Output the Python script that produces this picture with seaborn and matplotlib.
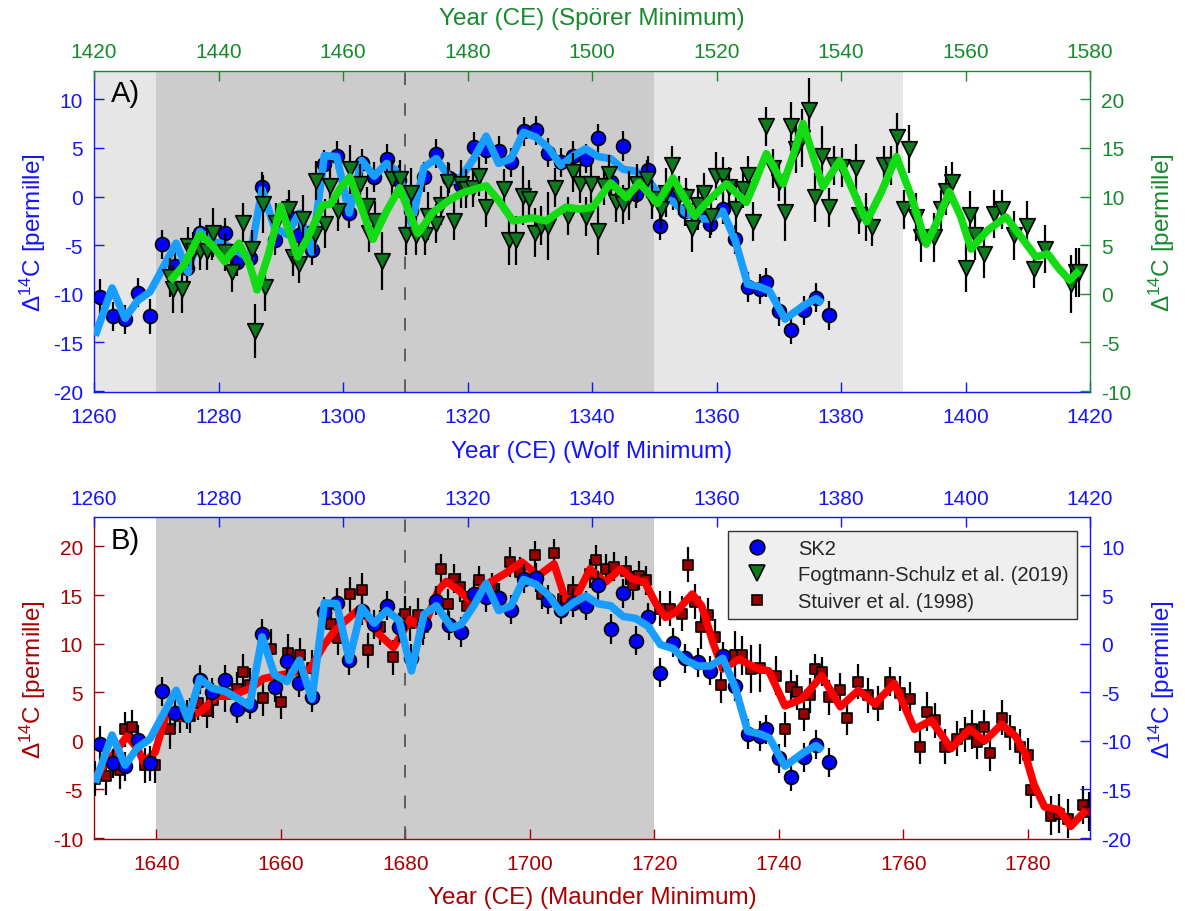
import matplotlib
matplotlib.use('Agg')
import matplotlib.pyplot as plt
import seaborn as sns
from matplotlib.lines import Line2D

# ---- SK2 stalagmite (years on the Wolf Minimum axis) ----
sk2_year = [1261, 1263, 1265, 1267, 1269, 1271, 1273, 1275, 1277, 1279, 1281, 1283, 1285, 1287, 1289,
            1291, 1293, 1295, 1297, 1299, 1301, 1303, 1305, 1307, 1309, 1311, 1313, 1315, 1317, 1319,
            1321, 1323, 1325, 1327, 1329, 1331, 1333, 1335, 1337, 1339, 1341, 1343, 1345, 1347, 1349,
            1351, 1353, 1355, 1357, 1359, 1361, 1363, 1365, 1367, 1368, 1370, 1372, 1374, 1376, 1378]
sk2_d14c = [-10.3, -12.3, -12.6, -9.9, -12.3, -4.9, -7.1, -7.3, -3.7, -5.0, -3.7, -6.7, -6.3, 1.0, -4.5,
            -1.8, -4.0, -5.5, 3.3, 4.2, -1.7, 3.4, 2.0, 3.9, 1.7, -1.5, 2.0, 4.4, 1.9, 1.2,
            5.1, 4.8, 4.7, 3.5, 6.7, 6.8, 4.5, 3.5, 4.2, 3.9, 6.0, 1.5, 5.2, 0.3, 2.7,
            -3.0, 0.1, -1.5, -1.9, -2.8, -1.3, -4.4, -9.3, -9.5, -8.8, -11.8, -13.7, -11.7, -10.4, -12.2]
sk2_err = [1.8, 1.5, 1.5, 1.5, 1.8, 1.5, 1.5, 1.5, 1.5, 1.5, 1.5, 1.5, 1.5, 1.5, 1.5,
           1.5, 1.5, 1.5, 1.5, 1.5, 1.5, 1.5, 1.5, 1.5, 1.5, 1.5, 1.5, 1.5, 1.5, 1.5,
           1.5, 1.5, 1.5, 1.5, 1.5, 1.5, 1.5, 1.5, 1.5, 1.5, 1.5, 1.5, 1.5, 1.5, 1.5,
           1.5, 1.5, 1.5, 1.5, 1.5, 1.5, 1.5, 1.5, 1.5, 1.5, 1.5, 1.5, 1.5, 1.5, 1.5]
sk2_fit_year = [1260.2, 1262.9, 1265, 1267, 1269, 1273.2, 1275.1, 1277, 1279, 1281, 1283, 1285, 1287,
                1289, 1291, 1293, 1295, 1297, 1299, 1301, 1303, 1305, 1307, 1309, 1311, 1313, 1315,
                1317.5, 1319, 1321, 1323, 1325, 1327, 1329, 1331, 1333, 1335, 1337, 1339, 1341, 1343,
                1345, 1347, 1349, 1351, 1353, 1355, 1357, 1359, 1361, 1363, 1365, 1367, 1368.5, 1371,
                1374, 1376, 1377]
sk2_fit = [-14.3, -9.4, -12.5, -10.7, -9.8, -4.8, -7.8, -3.6, -4.6, -4.9, -5.6, -6.4, 0.7,
           -3.2, -3.9, -1.7, -5.7, 4.2, 4.1, -1.7, 3.7, 2.1, 3.4, 2.4, -2.8, 3.0, 3.9,
           1.6, 2.0, 3.9, 6.2, 3.4, 3.9, 6.6, 6.1, 5.0, 3.2, 4.2, 4.9, 4.1, 3.9,
           2.8, 2.6, 1.8, -0.1, -0.5, -1.7, -2.3, -2.3, -1.5, -4.5, -9.0, -9.3, -9.7, -12.6,
           -11.2, -10.5, -11.0]

# ---- Fogtmann-Schulz et al. (2019) (Spoerer Minimum axis) ----
fs_year = [1432.2, 1432.7, 1434.2, 1435.1, 1435.9, 1437.0, 1438.1, 1439.1, 1441.0, 1442.1,
           1444.0, 1445.4, 1445.9, 1447.2, 1447.4, 1449.3, 1451.3, 1451.9, 1453.0, 1453.6,
           1455.5, 1455.7, 1457.1, 1457.9, 1459.2, 1461.1, 1462.8, 1463.8, 1464.2, 1465.1,
           1466.2, 1467.8, 1469.1, 1470.2, 1471.0, 1471.8, 1473.1, 1473.6, 1475.0, 1475.8,
           1476.8, 1477.9, 1479.0, 1479.8, 1480.9, 1481.9, 1483.0, 1485.9, 1486.7, 1487.8,
           1488.9, 1489.9, 1490.8, 1491.8, 1492.9, 1494.0, 1496.1, 1496.9, 1498.0, 1499.0,
           1499.8, 1500.9, 1502.0, 1502.8, 1503.8, 1504.9, 1506.0, 1507.3, 1508.9, 1509.7,
           1511.1, 1511.9, 1512.9, 1514.0, 1515.1, 1516.0, 1517.0, 1518.0, 1519.1, 1519.9,
           1521.0, 1522.0, 1523.1, 1524.2, 1525.0, 1525.9, 1527.9, 1529.0, 1530.1, 1531.0,
           1531.9, 1532.7, 1533.8, 1534.9, 1535.9, 1537.0, 1538.1, 1538.8, 1540.2, 1542.4,
           1542.9, 1544.0, 1545.0, 1546.9, 1548.0, 1549.0, 1550.1, 1550.9, 1552.0, 1552.8,
           1554.9, 1556.0, 1556.8, 1557.9, 1560.0, 1560.8, 1561.6, 1562.9, 1564.6, 1565.9,
           1567.8, 1569.9, 1571.0, 1572.8, 1576.9, 1577.7, 1578.2]
fs_d14c = [1.7, 0.5, 0.5, 4.9, 4.4, 4.4, 4.4, 6.3, 4.3, 2.2,
           7.3, 4.6, -3.8, 9.2, 0.7, 7.3, 8.7, 3.8, 3.1, 7.7,
           6.1, 11.6, 7.2, 11.1, 8.5, 12.8, 11.3, 9.0, 6.3, 7.5,
           3.4, 11.8, 11.8, 6.0, 10.4, 6.0, 6.0, 8.0, 7.2, 9.1,
           11.5, 7.5, 11.3, 10.8, 10.9, 12.1, 8.9, 10.8, 5.5, 5.5,
           10.1, 9.7, 6.3, 7.0, 7.0, 10.9, 8.0, 12.5, 11.3, 7.9,
           11.3, 6.5, 11.1, 12.3, 9.4, 9.2, 10.1, 11.3, 11.8, 9.7,
           8.7, 10.4, 13.2, 10.1, 9.9, 6.8, 9.1, 10.4, 8.0, 12.1,
           12.1, 11.0, 8.7, 10.8, 12.2, 7.4, 17.2, 12.9, 11.5, 8.4,
           17.2, 14.9, 16.0, 18.9, 9.9, 14.2, 8.9, 13.2, 13.0, 12.9,
           8.1, 7.9, 6.9, 13.2, 13.2, 16.1, 8.7, 14.9, 7.9, 5.8,
           5.8, 8.7, 10.6, 11.5, 2.7, 8.1, 6.0, 4.1, 8.2, 8.7,
           6.0, 7.0, 2.6, 4.6, 1.0, 2.2, 2.2]
fs_err = [2.0, 2.5, 2.5, 2.0, 2.0, 2.0, 2.0, 2.5, 2.0, 2.0,
          2.0, 2.0, 2.8, 3.0, 2.5, 2.0, 2.0, 2.0, 2.0, 2.5,
          2.0, 2.0, 2.5, 2.0, 2.0, 2.5, 2.0, 2.0, 2.0, 2.0,
          3.0, 2.0, 2.0, 2.0, 2.5, 2.0, 2.0, 2.5, 2.0, 2.0,
          2.0, 2.0, 2.5, 2.0, 2.0, 2.0, 2.0, 2.0, 2.5, 2.5,
          3.0, 2.0, 2.5, 2.0, 3.5, 2.0, 2.0, 2.0, 2.0, 2.0,
          2.0, 2.5, 2.0, 2.0, 2.0, 2.0, 2.5, 2.0, 2.0, 2.0,
          2.0, 2.5, 2.0, 2.0, 2.0, 2.5, 2.0, 2.0, 2.0, 2.5,
          2.0, 2.0, 2.5, 2.0, 2.0, 2.0, 2.0, 2.0, 2.0, 3.0,
          2.5, 2.5, 3.0, 3.3, 2.5, 3.0, 2.0, 2.0, 2.0, 2.5,
          2.0, 2.5, 2.0, 2.0, 2.0, 2.5, 2.0, 2.5, 2.5, 2.5,
          2.5, 2.0, 2.5, 2.0, 2.5, 2.5, 2.5, 2.5, 2.5, 2.0,
          2.5, 2.5, 2.0, 2.5, 3.0, 2.5, 2.5]
fs_fit_year = [1432.2, 1434.5, 1437, 1439, 1441, 1443.3, 1445, 1446.2, 1448, 1450, 1452.7, 1454.5,
               1456.7, 1458, 1459.5, 1461.1, 1463, 1464.8, 1467, 1469.1, 1472, 1474.5, 1477,
               1479.3, 1483, 1485, 1487.3, 1490.5, 1492.6, 1495.8, 1498, 1500.1, 1503, 1505.5,
               1507.6, 1510.5, 1513, 1516.5, 1518.9, 1521.6, 1524.8, 1526.5, 1528, 1530.7, 1532.2,
               1533.9, 1535.5, 1537.1, 1539.8, 1542, 1544.1, 1546.5, 1548.9, 1551.3, 1553.7, 1555.5,
               1557.4, 1559.2, 1560.9, 1563.5, 1566.5, 1569, 1571.3, 1573.2, 1575, 1576.7, 1578.3]
fs_fit = [1.3, 3.0, 6.1, 5.0, 3.3, 5.2, 3.0, 0.4, 4.0, 9.0, 3.8, 6.0,
          9.1, 9.2, 10.8, 12.0, 8.8, 5.6, 8.5, 10.9, 6.2, 8.4, 9.6,
          10.4, 11.1, 9.6, 7.5, 7.8, 7.5, 8.9, 8.7, 8.9, 11.4, 9.9,
          11.4, 9.3, 11.9, 8.0, 9.7, 11.3, 9.4, 12.0, 14.4, 11.3, 14.0,
          17.5, 14.2, 11.0, 13.7, 10.5, 7.4, 10.5, 14.1, 10.0, 5.1, 7.5,
          10.5, 8.0, 4.6, 6.5, 7.9, 5.8, 3.8, 4.1, 2.6, 1.4, 2.4]

# ---- Stuiver et al. (1998) (Maunder Minimum axis) ----
st_year = [1630.2, 1632.0, 1634.2, 1634.9, 1636.1, 1638.2, 1639.8, 1642.2, 1643.8, 1645.4,
           1646.7, 1648.1, 1649.1, 1651.0, 1653.0, 1654.0, 1655.1, 1657.1, 1658.5, 1660.1,
           1661.2, 1663.1, 1665.0, 1668.1, 1669.2, 1671.1, 1673.1, 1674.0, 1675.9, 1678.0,
           1679.9, 1680.8, 1682.1, 1682.9, 1685.8, 1686.9, 1687.8, 1688.8, 1689.9, 1691.8,
           1693.9, 1696.9, 1698.5, 1700.9, 1702.0, 1703.9, 1705.3, 1707.0, 1709.6, 1710.6,
           1712.3, 1713.6, 1715.5, 1716.6, 1717.6, 1718.7, 1720.9, 1722.5, 1724.5, 1725.5,
           1726.5, 1727.5, 1728.6, 1729.7, 1730.8, 1733.0, 1734.1, 1735.5, 1737.0, 1739.5,
           1741.0, 1741.9, 1743.0, 1744.0, 1745.1, 1745.9, 1747.0, 1748.0, 1749.9, 1751.0,
           1752.8, 1754.4, 1756.0, 1757.9, 1759.5, 1761.1, 1762.7, 1763.8, 1765.1, 1766.7,
           1768.6, 1769.9, 1771.0, 1771.8, 1772.9, 1773.9, 1775.8, 1777.1, 1778.7, 1780.0,
           1780.6, 1783.8, 1785.1, 1786.5, 1788.9, 1789.8]
st_d14c = [-3.9, -3.6, -3.0, 1.2, 1.4, -2.5, -2.5, 1.2, 2.6, 2.6,
           3.9, 3.1, 4.2, 4.8, 5.3, 7.1, 5.7, 4.4, 9.5, 4.0,
           9.0, 8.8, 7.5, 12.0, 10.6, 15.1, 15.5, 9.3, 11.7, 8.6,
           13.1, 12.1, 12.9, 11.7, 17.7, 14.1, 16.7, 15.8, 13.9, 16.5,
           15.8, 18.4, 17.4, 19.1, 15.1, 19.3, 14.6, 15.5, 17.2, 18.6,
           17.7, 17.9, 17.5, 16.0, 17.0, 16.5, 13.6, 13.6, 13.1, 18.1,
           14.3, 11.7, 12.9, 10.7, 5.7, 8.8, 8.8, 7.4, 7.5, 6.7,
           1.2, 5.5, 5.0, 2.8, 4.7, 7.4, 7.1, 4.5, 5.2, 2.4,
           6.1, 4.7, 3.8, 6.1, 4.9, 4.3, -0.6, 3.0, 2.1, -0.6,
           0.2, 0.7, 1.2, -0.1, 1.4, -1.3, 2.4, 0.9, -0.6, -1.5,
           -5.1, -7.7, -7.5, -8.0, -6.6, -7.3]
st_err = [1.8, 2.0, 2.0, 1.8, 1.8, 1.8, 1.8, 2.0, 1.8, 1.8,
          1.8, 1.8, 1.8, 1.8, 1.8, 1.8, 1.8, 1.8, 2.0, 1.8,
          2.0, 1.8, 1.8, 1.8, 1.8, 1.8, 1.8, 1.8, 1.8, 1.8,
          1.8, 1.8, 1.8, 1.8, 1.5, 1.5, 1.5, 1.5, 1.5, 1.5,
          1.5, 1.5, 1.5, 1.5, 1.5, 1.5, 1.5, 1.5, 1.5, 1.5,
          1.5, 1.5, 1.5, 1.5, 1.5, 1.5, 1.8, 1.8, 1.8, 1.8,
          1.8, 2.2, 1.8, 1.8, 1.8, 2.5, 2.0, 2.5, 2.5, 2.0,
          1.8, 1.8, 1.8, 1.8, 1.8, 1.5, 1.5, 1.8, 1.8, 1.8,
          1.8, 1.8, 1.8, 1.5, 1.8, 1.8, 1.8, 2.0, 1.8, 1.8,
          1.8, 1.8, 2.0, 1.8, 1.8, 1.8, 1.8, 1.8, 1.8, 1.8,
          1.8, 2.0, 2.0, 2.0, 2.0, 2.0]
st_fit_year = [1630, 1633, 1635.3, 1637, 1638, 1639.8, 1641.7, 1644.4, 1647.1, 1649.7, 1651.9,
               1655.1, 1657.2, 1659.4, 1662.6, 1664.7, 1666.9, 1668.5, 1670.1, 1672.7, 1674,
               1675.4, 1678.1, 1680.8, 1682.9, 1685.3, 1686.6, 1688.5, 1690.1, 1692.8, 1696,
               1698.7, 1701.4, 1703.9, 1705.7, 1707.3, 1709.7, 1712.1, 1714.6, 1716.4, 1718.5,
               1720.2, 1721.8, 1723.4, 1726.1, 1727.6, 1729.5, 1731, 1733.6, 1736.7, 1738.4,
               1741, 1743.7, 1746.9, 1749.9, 1752.8, 1755.4, 1758.6, 1761.8, 1764.5, 1767.7,
               1770.6, 1773.1, 1775.8, 1778, 1779.5, 1781, 1782.7, 1785.1, 1786.9, 1789.4]
st_fit = [-3.8, -1.5, 0.5, -0.8, -2.2, -1.2, 3.0, 2.3, 3.0, 4.6, 4.6,
          5.4, 6.4, 6.7, 7.1, 7.4, 9.8, 11.2, 12.2, 13.6, 12.6,
          11.2, 9.6, 12.5, 11.5, 15.5, 16.4, 15.5, 14.6, 16.0, 17.2,
          18.4, 17.0, 18.2, 14.6, 14.6, 17.7, 16.3, 17.7, 16.7, 16.3,
          14.2, 12.7, 13.2, 15.1, 13.9, 10.0, 7.4, 8.4, 7.4, 7.2,
          3.6, 4.3, 6.7, 3.5, 5.2, 3.8, 5.9, 1.2, 2.1, -0.8,
          1.2, 0.0, 1.7, 0.5, -1.2, -4.5, -6.8, -7.1, -8.8, -7.1]

BLUE = '#1414ff'
GREEN = '#168a2c'
DARKRED = '#a80000'
YLAB = '\u0394$^{14}$C [permille]'

sns.set_style('ticks')
plt.rcParams['font.family'] = ['Liberation Sans', 'DejaVu Sans']
plt.rcParams['mathtext.fontset'] = 'custom'
plt.rcParams['mathtext.rm'] = 'Liberation Sans'
plt.rcParams['mathtext.default'] = 'regular'
plt.rcParams['axes.unicode_minus'] = False

fig = plt.figure(figsize=(11.85, 9.12), dpi=100)


def make_pair(rect, c_bottom, c_left, c_top, c_right):
    ax = fig.add_axes(rect)
    ax2 = fig.add_axes(rect)
    ax2.patch.set_visible(False)
    ax.spines['top'].set_visible(False)
    ax.spines['right'].set_visible(False)
    ax2.spines['bottom'].set_visible(False)
    ax2.spines['left'].set_visible(False)
    ax.spines['bottom'].set_color(c_bottom)
    ax.spines['left'].set_color(c_left)
    ax2.spines['top'].set_color(c_top)
    ax2.spines['right'].set_color(c_right)
    for sp in list(ax.spines.values()) + list(ax2.spines.values()):
        sp.set_linewidth(1.0)
    ax2.xaxis.tick_top()
    ax2.xaxis.set_label_position('top')
    ax2.yaxis.tick_right()
    ax2.yaxis.set_label_position('right')
    kw = dict(direction='in', length=7, width=1, labelsize=15)
    ax.tick_params(axis='x', colors=c_bottom, pad=11, **kw)
    ax.tick_params(axis='y', colors=c_left, pad=8, **kw)
    ax2.tick_params(axis='x', colors=c_top, pad=7, **kw)
    ax2.tick_params(axis='y', colors=c_right, pad=8, **kw)
    return ax, ax2


def draw_points(ax, x, y, err, marker, size, color, line_x, line_y, line_color, z):
    ax.errorbar(x, y, yerr=err, fmt='none', ecolor='black', elinewidth=1.6, capsize=0, zorder=z)
    sns.scatterplot(x=x, y=y, ax=ax, marker=marker, s=size, color=color, edgecolor='black',
                    linewidth=1.2, zorder=z + 1, legend=False)
    sns.lineplot(x=line_x, y=line_y, ax=ax, color=line_color, linewidth=5.5, estimator=None,
                 sort=False, zorder=z + 2)
    ax.lines[-1].set_solid_joinstyle('round')
    ax.lines[-1].set_solid_capstyle('butt')


# ---------------- Panel A ----------------
rectA = [94 / 1185, 1 - 392.7 / 912, 996 / 1185, 321 / 912]
axA, axA2 = make_pair(rectA, BLUE, BLUE, GREEN, GREEN)
axA.axvspan(1260, 1270, color='#e6e6e6', lw=0, zorder=0)
axA.axvspan(1270, 1350, color='#cccccc', lw=0, zorder=0)
axA.axvspan(1350, 1390, color='#e6e6e6', lw=0, zorder=0)
axA.axvline(1310, color='#555555', lw=1.3, ls=(0, (7, 10)), zorder=1)

draw_points(axA, sk2_year, sk2_d14c, sk2_err, 'o', 100, '#0000ff', sk2_fit_year, sk2_fit, '#189eff', 3)
draw_points(axA2, fs_year, fs_d14c, fs_err, 'v', 125, '#0d7a1e', fs_fit_year, fs_fit, '#14dc14', 3)

axA.set_xlim(1260, 1420)
axA.set_ylim(-20.06, 12.93)
axA2.set_xlim(1420, 1580)
axA2.set_ylim(-10.06, 22.93)
axA.set_xticks(range(1260, 1421, 20))
axA.set_yticks(range(-20, 11, 5))
axA2.set_xticks(range(1420, 1581, 20))
axA2.set_yticks(range(-10, 21, 5))
axA.set_xlabel('Year (CE) (Wolf Minimum)', color=BLUE, fontsize=17.5, labelpad=10)
axA.set_ylabel(YLAB, color=BLUE, fontsize=17.5, labelpad=3)
axA2.set_xlabel('Year (CE) (Sp\u00f6rer Minimum)', color=GREEN, fontsize=17.5, labelpad=13)
axA2.set_ylabel(YLAB, color=GREEN, fontsize=17.5, labelpad=11)
axA2.yaxis.label.set_rotation(90)
axA.text(0.017, 0.93, 'A)', transform=axA.transAxes, fontsize=21, va='center', ha='left',
         color='black')

# ---------------- Panel B ----------------
rectB = [94 / 1185, 1 - 840 / 912, 996 / 1185, 321.7 / 912]
axB, axB2 = make_pair(rectB, DARKRED, DARKRED, BLUE, BLUE)
axB.axvspan(1640, 1720, color='#cccccc', lw=0, zorder=0)
axB.axvline(1680, color='#555555', lw=1.3, ls=(0, (7, 10)), zorder=1)

draw_points(axB, st_year, st_d14c, st_err, 's', 58, '#990000', st_fit_year, st_fit, '#ff0000', 3)
draw_points(axB2, sk2_year, sk2_d14c, sk2_err, 'o', 100, '#0000ff', sk2_fit_year, sk2_fit, '#189eff', 3)

axB.set_xlim(1630, 1790)
axB.set_ylim(-10.1, 23.0)
axB2.set_xlim(1260, 1420)
axB2.set_ylim(-20.1, 13.0)
axB.set_xticks(range(1640, 1781, 20))
axB.set_yticks(range(-10, 21, 5))
axB2.set_xticks(range(1260, 1421, 20))
axB2.set_yticks(range(-20, 11, 5))
axB.set_xlabel('Year (CE) (Maunder Minimum)', color=DARKRED, fontsize=17.5, labelpad=9)
axB.set_ylabel(YLAB, color=DARKRED, fontsize=17.5, labelpad=3)
axB2.set_ylabel(YLAB, color=BLUE, fontsize=17.5, labelpad=11)
axB2.yaxis.label.set_rotation(90)
axB.text(0.017, 0.93, 'B)', transform=axB.transAxes, fontsize=21, va='center', ha='left',
         color='black')

handles = [
    Line2D([], [], ls='none', marker='o', ms=10.5, mfc='#0000ff', mec='black', mew=1.2),
    Line2D([], [], ls='none', marker='v', ms=11.5, mfc='#0d7a1e', mec='black', mew=1.2),
    Line2D([], [], ls='none', marker='s', ms=7.5, mfc='#990000', mec='black', mew=1.2),
]
labels = ['SK2', 'Fogtmann-Schulz et al. (2019)', 'Stuiver et al. (1998)']
leg = axB2.legend(handles, labels, loc='upper right', bbox_to_anchor=(1077 / 1185, 1 - 532 / 912),
                  bbox_transform=fig.transFigure, borderaxespad=0, fontsize=14.5, frameon=True,
                  fancybox=False, framealpha=1, edgecolor='#333333', facecolor='#efefef',
                  labelspacing=0.36, handletextpad=1.0, borderpad=0.4, handlelength=2.1)
leg.get_frame().set_linewidth(1.0)
leg.set_zorder(20)

fig.savefig('out.png', dpi=100)
